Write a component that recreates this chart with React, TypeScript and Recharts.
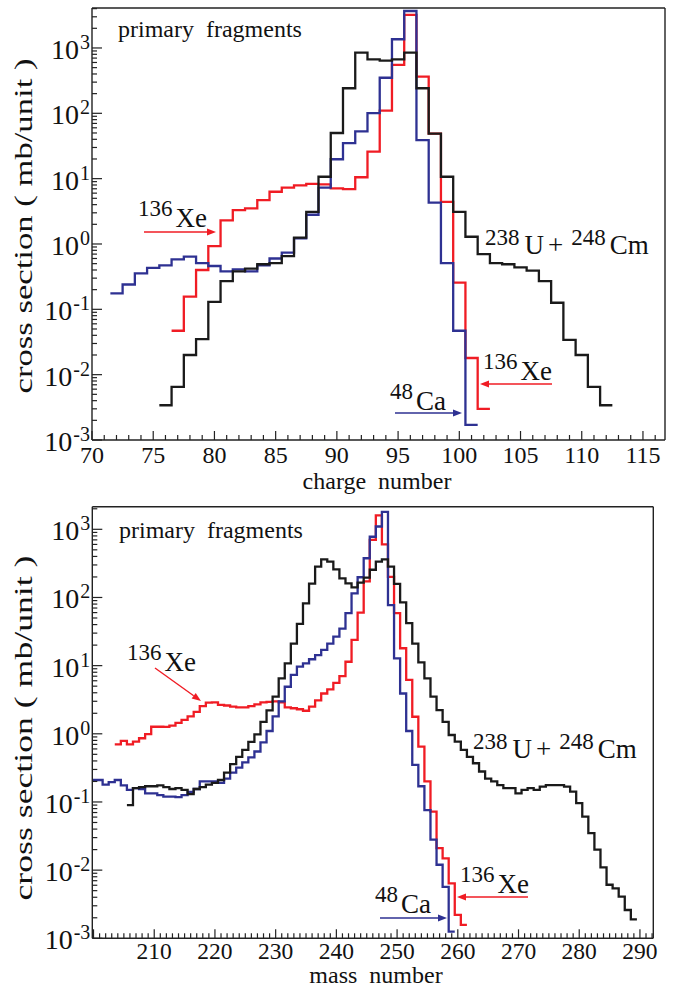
import React from 'react';
import { LineChart, Line, XAxis, YAxis } from 'recharts';

const FONT = '"Liberation Serif", "Times New Roman", serif';
const RED = '#f01c24';
const BLUE = '#2e3192';
const BLACK = '#1a1a1a';

// ---------- top panel: charge number ----------
const chargeTickLabels = [70, 75, 80, 85, 90, 95, 100, 105, 110, 115];
const chargeDomain = [70, 116.8];

const zFirstUCm = 76;
const zUCm = [0.0034, 0.0065, 0.02, 0.035, 0.13, 0.27, 0.38, 0.42, 0.49, 0.51, 0.65, 1.25, 3.1, 10.7, 50, 242, 850, 670, 640, 670, 850, 242, 49, 10.7, 3.1, 1.29, 0.7, 0.51, 0.49, 0.44, 0.39, 0.27, 0.126, 0.034, 0.02, 0.0065, 0.0034];

const zFirstCa = 72;
const zCa = [0.176, 0.24, 0.355, 0.43, 0.47, 0.58, 0.64, 0.51, 0.46, 0.38, 0.41, 0.38, 0.47, 0.6, 0.74, 1.22, 2.8, 7.3, 19.8, 35, 53, 101, 350, 1360, 3680, 39, 4.3, 0.51, 0.047, 0.0017];

const zFirstXe = 77;
const zXe = [0.047, 0.156, 0.4, 0.93, 2.3, 3.3, 3.5, 4.7, 6.3, 7.3, 7.9, 8.3, 8.2, 7.1, 6.9, 10.5, 26, 110, 550, 3200, 365, 49, 4.4, 0.256, 0.018, 0.003];

// ---------- bottom panel: mass number ----------
const massTickLabels = [210, 220, 230, 240, 250, 260, 270, 280, 290];
const massDomain = [199.8, 292.2];

const aFirstUCm = 206;
const aUCm = [0.09, 0.16, 0.165, 0.17, 0.17, 0.175, 0.165, 0.155, 0.16, 0.15, 0.13, 0.155, 0.165, 0.18, 0.19, 0.21, 0.27, 0.36, 0.46, 0.58, 0.76, 0.98, 1.5, 2.2, 3.5, 6.5, 10.8, 21, 41, 82, 160, 283, 363, 335, 259, 191, 161, 141, 165, 195, 255, 335, 363, 283, 158, 85, 42, 21, 11.2, 6.5, 3.5, 2.23, 1.5, 0.96, 0.77, 0.58, 0.46, 0.37, 0.28, 0.22, 0.2, 0.177, 0.16, 0.16, 0.134, 0.15, 0.16, 0.15, 0.168, 0.177, 0.177, 0.177, 0.168, 0.142, 0.096, 0.061, 0.035, 0.02, 0.011, 0.0061, 0.0054, 0.0041, 0.0026, 0.0019];

const aFirstCa = 200;
const aCa = [0.21, 0.21, 0.18, 0.195, 0.21, 0.175, 0.15, 0.16, 0.155, 0.134, 0.134, 0.126, 0.12, 0.12, 0.118, 0.126, 0.14, 0.155, 0.2, 0.2, 0.2, 0.19, 0.22, 0.27, 0.32, 0.38, 0.45, 0.55, 0.75, 1.1, 1.8, 3.0, 4.9, 7.3, 9.7, 10.8, 12.4, 14.3, 17, 21, 26.6, 35, 59, 115, 198, 376, 778, 1100, 1800, 77, 12.8, 3.9, 1.1, 0.35, 0.17, 0.076, 0.028, 0.012, 0.0057, 0.00125];

const aFirstXe = 204;
const aXe = [0.7, 0.79, 0.7, 0.77, 0.86, 0.99, 1.27, 1.27, 1.26, 1.32, 1.45, 1.6, 1.8, 2.1, 2.55, 2.86, 2.9, 2.65, 2.6, 2.5, 2.45, 2.45, 2.55, 2.7, 2.9, 2.95, 3.0, 2.9, 2.45, 2.37, 2.29, 2.18, 2.5, 3.1, 3.9, 4.5, 5.6, 7.0, 11.4, 23.8, 60, 172, 700, 1600, 600, 200, 59, 18, 6.2, 1.78, 0.65, 0.2, 0.072, 0.021, 0.0149, 0.0064, 0.0022, 0.00157];

const decadeTicks = [0.001, 0.01, 0.1, 1, 10, 100, 1000];

// histogram bins (width 1, centred on integers) -> step points
function toSteps(first: number, values: number[]) {
  const pts = values.map((v, i) => ({ x: first + i - 0.5, y: v }));
  pts.push({ x: first + values.length - 0.5, y: values[values.length - 1] });
  return pts;
}

function logTicks(top: number) {
  const out: number[] = [];
  decadeTicks.forEach((d) => {
    out.push(d);
    for (let m = 2; m <= 9; m++) {
      const v = Number((d * m).toPrecision(3));
      if (v < top) out.push(v);
    }
  });
  return out;
}

function intTicks(lo: number, hi: number) {
  const out: number[] = [];
  for (let v = Math.ceil(lo); v <= hi; v++) out.push(v);
  return out;
}

const AX = '#222';

const YTick = (props: any) => {
  const { x, y, payload } = props;
  const v = payload.value;
  const lg = Math.log10(v);
  const major = Math.abs(lg - Math.round(lg)) < 1e-6;
  const len = major ? 10 : 5;
  return (
    <g>
      <line x1={x} y1={y} x2={x + len} y2={y} stroke={AX} strokeWidth={1.2} />
      {major && (
        <text x={x - 2} y={y + 11} textAnchor="end" fontFamily={FONT} fill="#111">
          <tspan fontSize={28}>10</tspan>
          <tspan fontSize={20} dy={-10} dx={1}>{String(Math.round(lg))}</tspan>
        </text>
      )}
    </g>
  );
};

const makeXTick = (labels: number[], majorStep: number, fs: number, off: number) => (props: any) => {
  const { x, y, payload } = props;
  const v = payload.value;
  const major = v % majorStep === 0;
  const len = major ? 9 : 5;
  return (
    <g>
      <line x1={x} y1={y} x2={x} y2={y - len} stroke={AX} strokeWidth={1.2} />
      {labels.includes(v) && (
        <text x={x} y={y + off} textAnchor="middle" fontFamily={FONT} fontSize={fs} fill="#111">
          {v}
        </text>
      )}
    </g>
  );
};

const chargeXTick = makeXTick(chargeTickLabels, 5, 24, 23);
const massXTick = makeXTick(massTickLabels, 10, 23.5, 21);

interface PanelProps {
  width: number;
  height: number;
  plot: { left: number; top: number; right: number; bottom: number };
  xDomain: number[];
  yTop: number;
  xTicks: number[];
  xTick: any;
  series: { data: { x: number; y: number }[]; color: string; name: string }[];
}

const Panel = ({ width, height, plot, xDomain, yTop, xTicks, xTick, series }: PanelProps) => (
  <LineChart
    width={width}
    height={height}
    margin={{
      top: plot.top - 1,
      left: plot.left - 1,
      right: width - plot.right - 1,
      bottom: height - plot.bottom - 1,
    }}
  >
    <XAxis
      xAxisId="b"
      dataKey="x"
      type="number"
      domain={xDomain}
      allowDataOverflow
      ticks={xTicks}
      interval={0}
      tick={xTick}
      tickLine={false}
      tickSize={0}
      tickMargin={0}
      height={1}
      axisLine={{ stroke: AX, strokeWidth: 1.4 }}
    />
    <XAxis
      xAxisId="t"
      orientation="top"
      type="number"
      domain={xDomain}
      allowDataOverflow
      ticks={[xDomain[0], xDomain[1]]}
      tick={false}
      tickLine={false}
      height={1}
      axisLine={{ stroke: AX, strokeWidth: 1.4 }}
    />
    <YAxis
      yAxisId="l"
      type="number"
      scale="log"
      domain={[0.001, yTop]}
      allowDataOverflow
      ticks={logTicks(yTop)}
      interval={0}
      tick={<YTick />}
      tickLine={false}
      tickSize={0}
      tickMargin={0}
      width={1}
      axisLine={{ stroke: AX, strokeWidth: 1.4 }}
    />
    <YAxis
      yAxisId="r"
      orientation="right"
      type="number"
      scale="log"
      domain={[0.001, yTop]}
      allowDataOverflow
      ticks={[0.001, 1]}
      tick={false}
      tickLine={false}
      width={1}
      axisLine={{ stroke: AX, strokeWidth: 1.4 }}
    />
    {series.map((s) => (
      <Line
        key={s.name}
        xAxisId="b"
        yAxisId="l"
        data={s.data}
        dataKey="y"
        type="stepAfter"
        stroke={s.color}
        strokeWidth={2.3}
        dot={false}
        isAnimationActive={false}
      />
    ))}
  </LineChart>
);

const T = (p: any) => (
  <text fontFamily={FONT} fill="#111" style={{ whiteSpace: 'pre' }} {...p} />
);

const Arrow = ({ x1, y1, x2, y2, color }: any) => {
  const ang = Math.atan2(y2 - y1, x2 - x1);
  const L = 9;
  const W = 3.5;
  const bx = x2 - L * Math.cos(ang);
  const by = y2 - L * Math.sin(ang);
  const px = -Math.sin(ang) * W;
  const py = Math.cos(ang) * W;
  return (
    <g>
      <line x1={x1} y1={y1} x2={bx} y2={by} stroke={color} strokeWidth={1.4} />
      <polygon points={`${x2},${y2} ${bx + px},${by + py} ${bx - px},${by - py}`} fill={color} />
    </g>
  );
};

const Iso = ({ x, y, mass, sym, gap = 3 }: any) => (
  <T x={x} y={y}>
    <tspan fontSize={23} dy={-11}>{mass}</tspan>
    <tspan fontSize={27} dy={11} dx={gap}>{sym}</tspan>
  </T>
);

const System = ({ x, y }: any) => (
  <T x={x} y={y}>
    <tspan fontSize={23} dy={-9}>238</tspan>
    <tspan fontSize={27} dy={9} dx={5}>U</tspan>
    <tspan fontSize={27} dx={4}>+</tspan>
    <tspan fontSize={23} dy={-9} dx={8}>248</tspan>
    <tspan fontSize={27} dy={9} dx={4}>Cm</tspan>
  </T>
);

const YTitle = ({ cx, cy, len }: any) => (
  <T
    x={0}
    y={0}
    fontSize={26}
    textAnchor="middle"
    textLength={len}
    lengthAdjust="spacingAndGlyphs"
    transform={`translate(${cx},${cy}) rotate(-90)`}
  >
    {'cross section ( mb/unit )'}
  </T>
);

export default function App() {
  const topSeries = [
    { name: 'xe', color: RED, data: toSteps(zFirstXe, zXe) },
    { name: 'ca', color: BLUE, data: toSteps(zFirstCa, zCa) },
    { name: 'u', color: BLACK, data: toSteps(zFirstUCm, zUCm) },
  ];
  const botSeries = [
    { name: 'xe', color: RED, data: toSteps(aFirstXe, aXe) },
    { name: 'ca', color: BLUE, data: toSteps(aFirstCa, aCa) },
    { name: 'u', color: BLACK, data: toSteps(aFirstUCm, aUCm) },
  ];
  return (
    <div style={{ position: 'absolute', left: 0, top: 0, width: 675, height: 989, background: '#fff' }}>
      <div style={{ position: 'absolute', left: 0, top: 0 }}>
        <Panel
          width={675}
          height={500}
          plot={{ left: 92, top: 8, right: 665, bottom: 440 }}
          xDomain={chargeDomain}
          yTop={4090}
          xTicks={intTicks(70, 116.8)}
          xTick={chargeXTick}
          series={topSeries}
        />
      </div>
      <div style={{ position: 'absolute', left: 0, top: 490 }}>
        <Panel
          width={675}
          height={499}
          plot={{ left: 92.3, top: 16.7, right: 653.3, bottom: 448.3 }}
          xDomain={massDomain}
          yTop={2146}
          xTicks={intTicks(199.8, 292.2)}
          xTick={massXTick}
          series={botSeries}
        />
      </div>
      <svg
        width={675}
        height={989}
        style={{ position: 'absolute', left: 0, top: 0, pointerEvents: 'none' }}
      >
        {/* top panel texts */}
        <T x={118} y={37} fontSize={24}>{'primary  fragments'}</T>
        <T x={377} y={489} fontSize={24} textAnchor="middle">{'charge  number'}</T>
        <YTitle cx={32} cy={226} len={335} />
        <Iso x={138} y={227} mass="136" sym="Xe" />
        <Arrow x1={144} y1={232} x2={216} y2={232} color={RED} />
        <System x={485} y={254} />
        <Iso x={483} y={380} mass="136" sym="Xe" />
        <Arrow x1={552} y1={384} x2={480} y2={384} color={RED} />
        <Iso x={390} y={410} mass="48" sym="Ca" />
        <Arrow x1={395} y1={413} x2={462} y2={413} color={BLUE} />

        {/* bottom panel texts */}
        <T x={119} y={538} fontSize={24}>{'primary  fragments'}</T>
        <T x={376} y={983} fontSize={24} textAnchor="middle">{'mass  number'}</T>
        <YTitle cx={32} cy={728} len={345} />
        <Iso x={127} y={671} mass="136" sym="Xe" />
        <Arrow x1={155} y1={668} x2={201} y2={701} color={RED} />
        <System x={473} y={758} />
        <Iso x={460} y={893} mass="136" sym="Xe" />
        <Arrow x1={528} y1={897} x2={457} y2={897} color={RED} />
        <Iso x={375} y={913} mass="48" sym="Ca" />
        <Arrow x1={380} y1={918} x2={447} y2={918} color={BLUE} />
      </svg>
    </div>
  );
}
